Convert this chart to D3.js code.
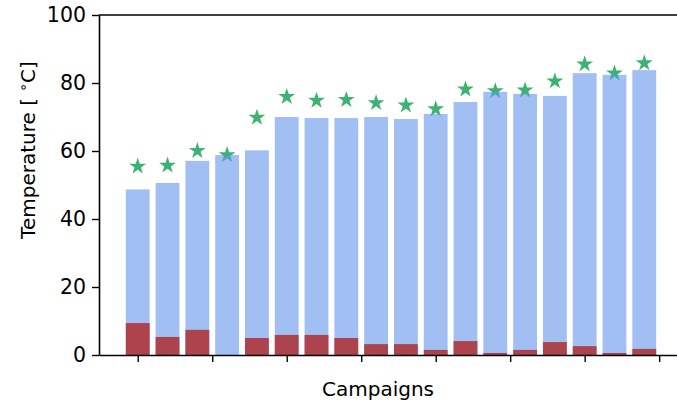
<!DOCTYPE html>
<html>
<head>
<meta charset="utf-8">
<script src="https://cdn.jsdelivr.net/npm/d3@7"></script>
<style>
  html, body { margin: 0; padding: 0; background: #fff; }
  svg { display: block; font-family: "DejaVu Sans", sans-serif; }
</style>
</head>
<body>
<svg id="chart" width="677" height="403"></svg>
<script>
// Campaign index (one bar per campaign)
const campaigns = d3.range(18);
// Mean temperature per campaign (blue bars)
const meanTemp = [48.7, 50.6, 57.1, 58.8, 60.2, 70.0, 69.7, 69.7, 70.0, 69.4, 70.9, 74.4, 77.4, 76.8, 76.2, 82.9, 82.4, 83.8];
// Minimum temperature per campaign (red bars)
const minTemp = [9.4, 5.3, 7.4, 0.0, 5.0, 5.9, 5.9, 5.0, 3.2, 3.2, 1.5, 4.1, 0.6, 1.5, 3.8, 2.6, 0.6, 1.8];
// Peak temperature per campaign (star markers)
const peakTemp = [55.6, 55.9, 60.2, 59.0, 70.0, 76.1, 75.0, 75.2, 74.3, 73.6, 72.5, 78.3, 77.8, 78.0, 80.7, 85.7, 83.0, 86.0];
// Axis ticks
const yTicks = [0, 20, 40, 60, 80, 100];
const xTicks = [0, 2.5, 5, 7.5, 10, 12.5, 15, 17.5];

const svg = d3.select("#chart");
const plotLeft = 99, plotRight = 683, plotTop = 15, plotBottom = 355;

const x = d3.scaleLinear().domain([-1.3, 18.3]).range([plotLeft, plotRight]);
const y = d3.scaleLinear().domain([0, 100]).range([plotBottom, plotTop]);
const barW = x(0.8) - x(0);

// Peak markers sit beneath the translucent bars
svg.append("g")
  .selectAll("path")
  .data(campaigns)
  .join("path")
  .attr("d", d3.symbol(d3.symbolStar, 88))
  .attr("transform", i => `translate(${x(i)},${y(peakTemp[i]) + 0.5})`)
  .attr("fill", "#3cb371");

// Mean temperature bars
svg.append("g")
  .selectAll("rect")
  .data(campaigns)
  .join("rect")
  .attr("x", i => x(i) - barW / 2)
  .attr("width", barW)
  .attr("y", i => y(meanTemp[i]))
  .attr("height", i => y(0) - y(meanTemp[i]))
  .attr("fill", "cornflowerblue")
  .attr("fill-opacity", 0.6);

// Minimum temperature bars
svg.append("g")
  .selectAll("rect")
  .data(campaigns)
  .join("rect")
  .attr("x", i => x(i) - barW / 2)
  .attr("width", barW)
  .attr("y", i => y(minTemp[i]))
  .attr("height", i => y(0) - y(minTemp[i]))
  .attr("fill", "#ad434d");

// Top spine
svg.append("line")
  .attr("x1", plotLeft).attr("x2", plotRight)
  .attr("y1", plotTop).attr("y2", plotTop)
  .attr("stroke", "#000").attr("stroke-width", 1.6);

// Axes
const yAxis = svg.append("g")
  .attr("transform", `translate(${plotLeft},0)`)
  .call(d3.axisLeft(y).tickValues(yTicks).tickSize(7).tickPadding(6).tickSizeOuter(0));
const xAxis = svg.append("g")
  .attr("transform", `translate(0,${plotBottom})`)
  .call(d3.axisBottom(x).tickValues(xTicks).tickSize(7).tickFormat(() => "").tickSizeOuter(0));

[yAxis, xAxis].forEach(g => {
  g.select(".domain").attr("stroke", "#000").attr("stroke-width", 1.6);
  g.selectAll(".tick line").attr("stroke", "#000").attr("stroke-width", 1.4);
  g.selectAll("text")
    .attr("fill", "#000")
    .style("font-family", "'DejaVu Sans', sans-serif")
    .style("font-size", "20.5px");
});

// Axis labels
svg.append("text")
  .attr("x", 378)
  .attr("y", 395.5)
  .attr("text-anchor", "middle")
  .style("font-size", "20px")
  .attr("fill", "#000")
  .text("Campaigns");

const yl = svg.append("text")
  .attr("transform", "translate(35,150) rotate(-90)")
  .attr("text-anchor", "middle")
  .style("font-size", "20px")
  .attr("fill", "#000");
yl.append("tspan").text("Temperature [ ");
yl.append("tspan").attr("dy", -7).style("font-size", "14px").text("∘");
yl.append("tspan").attr("dy", 7).text("C]");
</script>
</body>
</html>
